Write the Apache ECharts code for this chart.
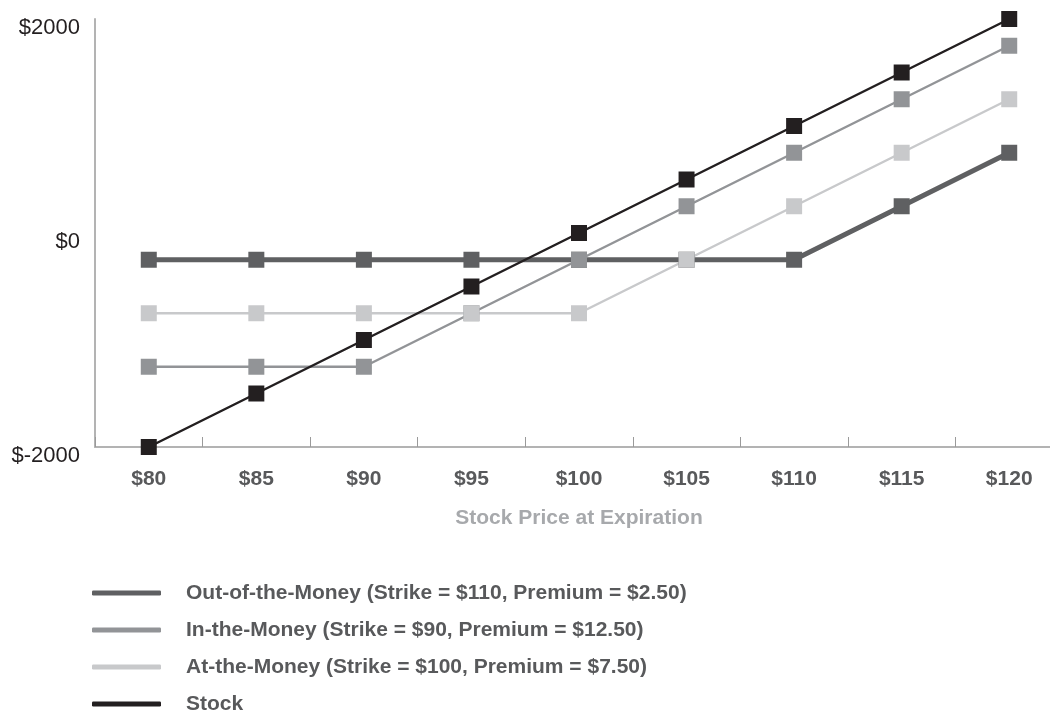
<!DOCTYPE html>
<html>
<head>
<meta charset="utf-8">
<script src="https://cdn.jsdelivr.net/npm/echarts@6/dist/echarts.min.js"></script>
<style>
  html, body { margin: 0; padding: 0; background: #fff; }
  #chart { width: 1050px; height: 711px; }
</style>
</head>
<body>
<div id="chart"></div>
<script>
// Stock price at expiration (x categories)
const prices = ['$80', '$85', '$90', '$95', '$100', '$105', '$110', '$115', '$120'];

// Profit / loss at expiration for 100 shares
const outOfMoney = [-250, -250, -250, -250, -250, -250, -250, 250, 750];
const inTheMoney = [-1250, -1250, -1250, -750, -250, 250, 750, 1250, 1750];
const atTheMoney = [-750, -750, -750, -750, -750, -250, 250, 750, 1250];
const stock = [-2000, -1500, -1000, -500, 0, 500, 1000, 1500, 2000];

const seriesNames = [
  'Out-of-the-Money (Strike = $110, Premium = $2.50)',
  'In-the-Money (Strike = $90, Premium = $12.50)',
  'At-the-Money (Strike = $100, Premium = $7.50)',
  'Stock'
];

const FONT = '"Liberation Sans", Arial, sans-serif';

function lineSeries(name, data, color, width) {
  return {
    name: name,
    type: 'line',
    data: data,
    symbol: 'rect',
    symbolSize: 16,
    showAllSymbol: true,
    lineStyle: { color: color, width: width },
    itemStyle: { color: color },
    emphasis: { disabled: true },
    animation: false
  };
}

const chart = echarts.init(document.getElementById('chart'));
chart.setOption({
  backgroundColor: '#ffffff',
  animation: false,
  grid: { left: 95, top: 19, width: 968, height: 428, containLabel: false, outerBoundsMode: 'none' },
  xAxis: {
    type: 'category',
    data: prices,
    boundaryGap: true,
    name: 'Stock Price at Expiration',
    nameLocation: 'middle',
    nameGap: 61,
    nameTextStyle: { color: '#a7a9ac', fontFamily: FONT, fontWeight: 'bold', fontSize: 21 },
    axisLine: { onZero: false, lineStyle: { color: '#b3b3b3', width: 2 } },
    axisTick: { show: true, inside: true, length: 10, lineStyle: { color: '#9a9a9a', width: 1 } },
    axisLabel: { color: '#58595b', fontFamily: FONT, fontWeight: 'bold', fontSize: 21, margin: 22 },
    splitLine: { show: false }
  },
  yAxis: {
    type: 'value',
    min: -2000,
    max: 2000,
    interval: 2000,
    axisLine: { show: true, lineStyle: { color: '#b3b3b3', width: 2 } },
    axisTick: { show: false },
    splitLine: { show: false },
    axisLabel: {
      color: '#231f20', fontFamily: FONT, fontSize: 22, margin: 15,
      verticalAlign: 'top', lineHeight: 18,
      formatter: function (v) { return '$' + v; }
    }
  },
  legend: {
    orient: 'vertical',
    left: 92,
    top: 582,
    height: 200,
    padding: 0,
    itemWidth: 69,
    itemHeight: 5,
    itemGap: 15,
    icon: 'roundRect',
    data: seriesNames,
    selectedMode: false,
    textStyle: { color: '#58595b', fontFamily: FONT, fontWeight: 'bold', fontSize: 21, lineHeight: 22, padding: [0, 0, 0, 20] }
  },
  series: [
    lineSeries(seriesNames[0], outOfMoney, '#5f6062', 5),
    lineSeries(seriesNames[1], inTheMoney, '#929497', 2.5),
    lineSeries(seriesNames[2], atTheMoney, '#c8c9cb', 2.5),
    lineSeries(seriesNames[3], stock, '#231f20', 2.5)
  ]
});
</script>
</body>
</html>
